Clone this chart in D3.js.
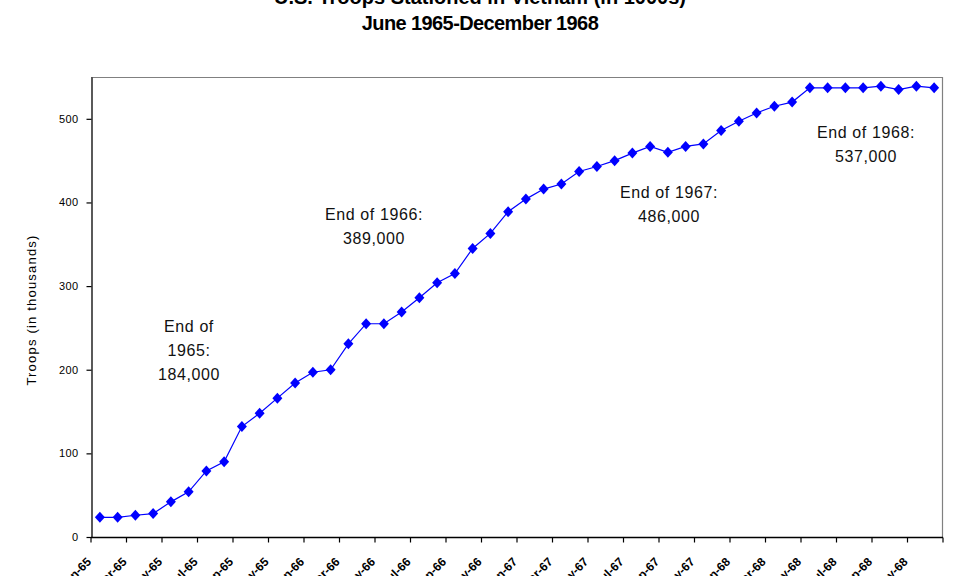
<!DOCTYPE html>
<html>
<head>
<meta charset="utf-8">
<script src="https://cdn.jsdelivr.net/npm/d3@7"></script>
<style>
  html, body { margin: 0; padding: 0; background: #fff; }
  svg { display: block; font-family: "Liberation Sans", Arial, sans-serif; }
</style>
</head>
<body>
<svg id="chart" width="960" height="576"></svg>
<script>
// ---- data ----
const categories = [
  "Jan-65","Feb-65","Mar-65","Apr-65","May-65","Jun-65","Jul-65","Aug-65","Sep-65","Oct-65","Nov-65","Dec-65",
  "Jan-66","Feb-66","Mar-66","Apr-66","May-66","Jun-66","Jul-66","Aug-66","Sep-66","Oct-66","Nov-66","Dec-66",
  "Jan-67","Feb-67","Mar-67","Apr-67","May-67","Jun-67","Jul-67","Aug-67","Sep-67","Oct-67","Nov-67","Dec-67",
  "Jan-68","Feb-68","Mar-68","Apr-68","May-68","Jun-68","Jul-68","Aug-68","Sep-68","Oct-68","Nov-68","Dec-68"
];
const troops = [
  23.5, 23.5, 26, 28, 42, 54, 79, 90, 132, 148, 166, 184,
  197, 200, 231, 255, 255, 269, 286, 304, 315, 345, 363, 389,
  404, 416, 422, 437, 443, 450, 459, 467, 460, 467, 470, 486,
  497, 507, 515, 520, 537, 537, 537, 537, 539, 535, 539, 537
];
const yTicks = [0, 100, 200, 300, 400, 500];
const titleLines = ["U.S. Troops Stationed in Vietnam (in 1000s)", "June 1965-December 1968"];
const yAxisTitle = "Troops (in thousands)";
const annotations = [
  { lines: ["End of", "1965:", "184,000"], cat: "Dec-65" },
  { lines: ["End of 1966:", "389,000"], cat: "Dec-66" },
  { lines: ["End of 1967:", "486,000"], cat: "Dec-67" },
  { lines: ["End of 1968:", "537,000"], cat: "Dec-68" }
];
// annotation placement (layout only)
const annPos = [
  { x: 189, y: 332 },
  { x: 374, y: 220 },
  { x: 669, y: 198 },
  { x: 866, y: 138 }
];

// ---- layout ----
const svg = d3.select("#chart");
const L = 91, R = 943, T = 77, B = 537;

const x = d3.scaleBand().domain(categories).range([L, R]).padding(0);
const y = d3.scaleLinear().domain([0, 550]).range([B, T]);
const cx = c => x(c) + x.bandwidth() / 2;

// titles
svg.append("text").attr("x", 480).attr("y", 4).attr("text-anchor", "middle")
  .attr("font-size", 20).attr("font-weight", "bold").text(titleLines[0]);
svg.append("text").attr("x", 480).attr("y", 30).attr("text-anchor", "middle")
  .attr("font-size", 20).attr("font-weight", "bold").attr("letter-spacing", "-0.6px").text(titleLines[1]);

// plot border (top/right grey)
svg.append("line").attr("x1", L).attr("x2", R - 1).attr("y1", T + 0.5).attr("y2", T + 0.5)
  .attr("stroke", "#808080").attr("stroke-width", 1.2);
svg.append("line").attr("x1", R - 0.5).attr("x2", R - 0.5).attr("y1", T).attr("y2", B)
  .attr("stroke", "#808080").attr("stroke-width", 1.2);

// y axis
const yAxis = d3.axisLeft(y).tickValues(yTicks).tickSize(5).tickPadding(8).tickSizeOuter(0);
const gy = svg.append("g").attr("transform", `translate(${L + 0.5},0)`).call(yAxis);
gy.select(".domain").attr("stroke", "#000").attr("stroke-width", 1.3);
gy.selectAll(".tick line").attr("stroke", "#000").attr("stroke-width", 1.2);
gy.selectAll(".tick text").attr("font-size", 11).attr("letter-spacing", "0.4px")
  .attr("font-family", "Liberation Sans, Arial, sans-serif").attr("fill", "#000");

// x axis: ticks every 2 categories, labels on every other category
const tickCats = categories.filter((d, i) => i % 2 === 0);
const gx = svg.append("g").attr("transform", `translate(0,${B + 0.5})`);
gx.append("line").attr("x1", L).attr("x2", R).attr("y1", 0).attr("y2", 0)
  .attr("stroke", "#000").attr("stroke-width", 1.3);
const tickXs = tickCats.map(c => x(c)).concat([R]);
gx.selectAll("line.tk").data(tickXs).join("line").attr("class", "tk")
  .attr("x1", d => d).attr("x2", d => d).attr("y1", 0).attr("y2", 5)
  .attr("stroke", "#000").attr("stroke-width", 1.2);
gx.selectAll("text.lbl").data(tickCats).join("text").attr("class", "lbl")
  .attr("transform", d => `translate(${cx(d) - 8},${25}) rotate(-45)`)
  .attr("text-anchor", "end").attr("font-size", 12).attr("font-weight", "bold")
  .text(d => d);

// y axis title
svg.append("text").attr("transform", "translate(36,310) rotate(-90)")
  .attr("text-anchor", "middle").attr("font-size", 13).attr("letter-spacing", "1.2px").text(yAxisTitle);

// line
const line = d3.line().x((d, i) => cx(categories[i])).y(d => y(d));
svg.append("path").datum(troops).attr("d", line)
  .attr("fill", "none").attr("stroke", "#0000ff").attr("stroke-width", 1.2);

// markers (diamonds)
svg.selectAll("path.mk").data(troops).join("path").attr("class", "mk")
  .attr("transform", (d, i) => `translate(${cx(categories[i])},${y(d)})`)
  .attr("d", "M0,-5.5L5,0L0,5.5L-5,0Z")
  .attr("fill", "#0000ff");

// annotations
annotations.forEach((a, k) => {
  const t = svg.append("text").attr("text-anchor", "middle").attr("font-size", 16)
    .attr("letter-spacing", "0.6px").attr("fill", "#111");
  a.lines.forEach((ln, j) => {
    t.append("tspan").attr("x", annPos[k].x).attr("y", annPos[k].y + j * 24).text(ln);
  });
});
</script>
</body>
</html>
